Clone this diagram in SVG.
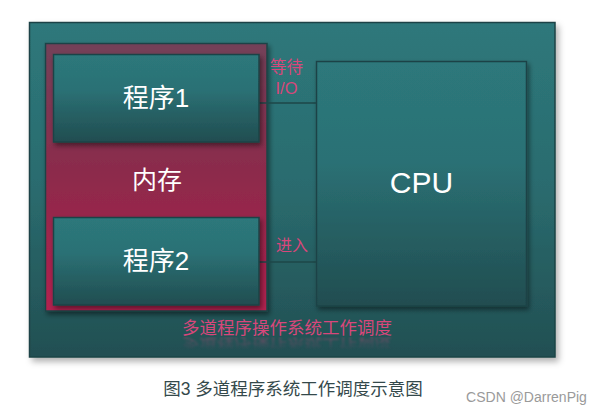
<svg xmlns="http://www.w3.org/2000/svg" xmlns:xlink="http://www.w3.org/1999/xlink" width="599" height="409" viewBox="0 0 599 409">
<defs>
<linearGradient id="teal" x1="0" y1="0" x2="0" y2="1">
<stop offset="0" stop-color="#2d787b"/>
<stop offset="0.4" stop-color="#2b7175"/>
<stop offset="1" stop-color="#214d50"/>
</linearGradient>
<linearGradient id="tealOuter" x1="0" y1="0" x2="0" y2="1">
<stop offset="0" stop-color="#2e787b"/>
<stop offset="0.5" stop-color="#2a6b6e"/>
<stop offset="1" stop-color="#224f52"/>
</linearGradient>
<linearGradient id="mem" x1="0" y1="0" x2="0" y2="1">
<stop offset="0" stop-color="#734159"/>
<stop offset="0.5" stop-color="#8d2a4b"/>
<stop offset="1" stop-color="#b2204f"/>
</linearGradient>
<linearGradient id="fade" x1="0" y1="0" x2="0" y2="1">
<stop offset="0" stop-color="#fff" stop-opacity="0.45"/>
<stop offset="1" stop-color="#fff" stop-opacity="0"/>
</linearGradient>
<mask id="reflMask" maskUnits="userSpaceOnUse" x="0" y="0" width="599" height="409">
<rect x="170" y="337" width="240" height="13" fill="url(#fade)"/>
</mask>
<filter id="shadow" x="-10%" y="-10%" width="125%" height="125%">
<feDropShadow dx="2" dy="3" stdDeviation="2.5" flood-color="#000" flood-opacity="0.45"/>
</filter>
<filter id="shadowOuter" x="-10%" y="-10%" width="125%" height="125%">
<feDropShadow dx="3" dy="4" stdDeviation="3" flood-color="#000" flood-opacity="0.3"/>
</filter>
<filter id="blur" x="-5%" y="-50%" width="110%" height="200%">
<feGaussianBlur stdDeviation="0.8"/>
</filter>
</defs>
<style>
.box{stroke:#1d4346;stroke-width:1.5}
.lbl{font-family:"Liberation Sans","Noto Sans CJK SC",sans-serif;fill:#ffffff;text-anchor:middle}
.pink{font-family:"Liberation Sans","Noto Sans CJK SC",sans-serif;fill:#d8477b;text-anchor:middle}
.conn{stroke:#1e4749;stroke-width:1.3;fill:none}
</style>
<rect width="599" height="409" fill="#ffffff"/>
<g id="system">
<rect x="29.5" y="22.5" width="525.5" height="334.5" fill="url(#tealOuter)" class="box" filter="url(#shadowOuter)"/>
<text id="title" class="pink" x="287" y="334" font-size="17.5">多道程序操作系统工作调度</text>
<g mask="url(#reflMask)" filter="url(#blur)">
<use href="#title" xlink:href="#title" transform="translate(0,673) scale(1,-1)"/>
</g>
</g>
<g id="memory">
<rect x="45.5" y="43.5" width="221.5" height="267.5" fill="url(#mem)" class="box" filter="url(#shadow)"/>
<text class="lbl" x="157" y="189" font-size="25">内存</text>
</g>
<g id="connectors">
<line class="conn" x1="259" y1="103" x2="316.5" y2="103"/>
<line class="conn" x1="259" y1="262" x2="316.5" y2="262"/>
<text class="pink" x="286.5" y="73" font-size="16.5">等待</text>
<text class="pink" x="286.5" y="94" font-size="16.5">I/O</text>
<text class="pink" x="292" y="251" font-size="16">进入</text>
</g>
<g id="program1">
<rect x="53.5" y="54.5" width="205.5" height="87.5" fill="url(#teal)" class="box" filter="url(#shadow)"/>
<text class="lbl" x="156" y="107" font-size="26">程序1</text>
</g>
<g id="program2">
<rect x="53.5" y="217.5" width="205.5" height="87.5" fill="url(#teal)" class="box" filter="url(#shadow)"/>
<text class="lbl" x="156" y="270" font-size="26">程序2</text>
</g>
<g id="cpu">
<rect x="316.5" y="61.5" width="210" height="244.5" fill="url(#teal)" class="box" filter="url(#shadow)"/>
<text x="421.5" y="193" class="lbl" font-size="30">CPU</text>
</g>
<g id="caption">
<text x="293" y="395" font-family="'Liberation Sans','Noto Sans CJK SC',sans-serif" font-size="17.5" fill="#34494b" text-anchor="middle">图3 多道程序系统工作调度示意图</text>
<text x="526.5" y="402" font-family="'Liberation Sans','Noto Sans CJK SC',sans-serif" font-size="14" fill="#9a9a9a" text-anchor="middle">CSDN @DarrenPig</text>
</g>
</svg>
